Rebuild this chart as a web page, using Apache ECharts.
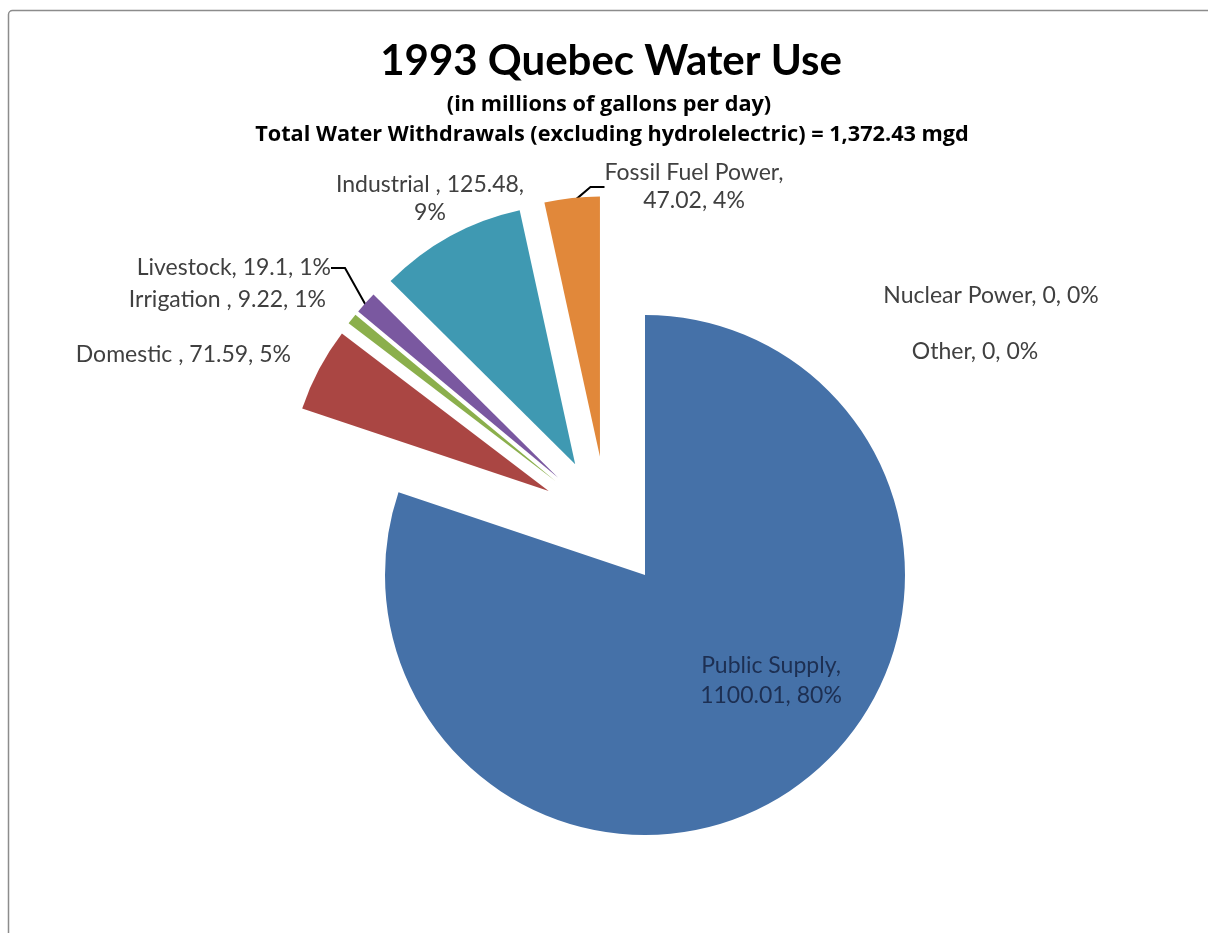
<!DOCTYPE html>
<html>
<head>
<meta charset="utf-8">
<script src="https://cdn.jsdelivr.net/npm/echarts@6/dist/echarts.min.js"></script>
<style>
html,body{margin:0;padding:0;background:#fff;}
#chart{width:1208px;height:933px;}
</style>
</head>
<body>
<div id="chart"></div>
<script>
// ---- data ----
var categories = ['Public Supply', 'Domestic', 'Irrigation', 'Livestock', 'Industrial', 'Fossil Fuel Power', 'Nuclear Power', 'Other'];
var values = [1100.01, 71.59, 9.22, 19.1, 125.48, 47.02, 0, 0];
var pctLabels = ['80%', '5%', '1%', '1%', '9%', '4%', '0%', '0%'];
var labelNames = ['Public Supply,', 'Domestic ,', 'Irrigation ,', 'Livestock,', 'Industrial ,', 'Fossil Fuel Power,', 'Nuclear Power,', 'Other,'];
var titleText = '1993 Quebec Water Use';
var subText1 = '(in millions of gallons per day)';
var subText2 = 'Total Water Withdrawals (excluding hydrolelectric) = 1,372.43 mgd';

// ---- styles ----
var colors = ['#4571A8', '#AA4643', '#8BAF4C', '#7A58A0', '#3F99B2', '#E1883A', '#4571A8', '#AA4643'];
// label placement (pixels)
var labelPos = [
  {x: 771, y: 681, align: 'center'},
  {x: 291, y: 355, align: 'right'},
  {x: 326, y: 300, align: 'right'},
  {x: 331, y: 268, align: 'right'},
  {x: 430, y: 199, align: 'center'},
  {x: 694, y: 187, align: 'center'},
  {x: 991, y: 296, align: 'center'},
  {x: 975, y: 352, align: 'center'}
];
var showLine = [false, false, false, true, false, true, false, false];

function labelText(i) {
  var v = String(values[i]);
  if (i === 0) return labelNames[i] + '\n' + v + ', ' + pctLabels[i];
  if (i === 4) return labelNames[i] + ' ' + v + ',\n' + pctLabels[i];
  if (i === 5) return labelNames[i] + '\n' + v + ', ' + pctLabels[i];
  return labelNames[i] + ' ' + v + ', ' + pctLabels[i];
}

var NONE = 'rgba(0,0,0,0)';

// slices drawn (fill) for a series, with labels optionally carried
function buildData(fillFn, labelFn, selectFn) {
  return categories.map(function (name, i) {
    var lab = labelFn(i);
    return {
      name: name,
      value: values[i],
      selected: selectFn(i),
      itemStyle: {color: fillFn(i) ? colors[i] : NONE},
      label: {show: lab, formatter: labelText(i)},
      labelLine: {show: lab && showLine[i]}
    };
  });
}

var font = 'Lato, "Liberation Sans", sans-serif';
var subFont = '"Open Sans", Lato, sans-serif';
var chart = echarts.init(document.getElementById('chart'), null, {renderer: 'canvas'});

function fixedLayout(p) {
  var lp = labelPos[p.dataIndex];
  return {x: lp.x, y: lp.y, align: lp.align, verticalAlign: 'middle'};
}

var option = {
  backgroundColor: '#ffffff',
  animation: false,
  title: [
    {text: titleText, left: 606, textAlign: 'center', top: 35, textStyle: {fontFamily: font, fontSize: 42, fontWeight: 'bold', color: '#000'}},
    {text: subText1, left: 604, textAlign: 'center', top: 89, textStyle: {fontFamily: subFont, fontSize: 21.7, fontWeight: 'bold', color: '#000'}},
    {text: subText2, left: 607, textAlign: 'center', top: 119, textStyle: {fontFamily: subFont, fontSize: 21.7, fontWeight: 'bold', color: '#000'}}
  ],
  graphic: [
    {type: 'rect', shape: {x: 8.5, y: 10.5, width: 1300, height: 1000, r: 4}, style: {fill: 'none', stroke: '#8c8c8c', lineWidth: 1.5}, silent: true, z: -1}
  ],
  series: [
    {
      // Public Supply (not exploded)
      type: 'pie',
      silent: true,
      center: [645, 575],
      radius: 260,
      startAngle: 90,
      clockwise: true,
      avoidLabelOverlap: false,
      minAngle: 0,
      label: {position: 'inside', fontFamily: font, fontSize: 23, color: '#1d2f52', lineHeight: 30, align: 'center'},
      labelLayout: fixedLayout,
      data: buildData(function (i) { return i === 0; }, function (i) { return i === 0; }, function () { return false; })
    },
    {
      // exploded slices
      type: 'pie',
      silent: true,
      center: [607, 522],
      radius: 260,
      startAngle: 90,
      clockwise: true,
      selectedMode: 'multiple',
      selectedOffset: 66,
      avoidLabelOverlap: false,
      minAngle: 0,
      label: {show: false},
      labelLine: {show: false},
      data: buildData(function (i) { return i > 0; }, function () { return false; }, function (i) { return i > 0 && i < 6; })
    },
    {
      // invisible carrier for the outside labels and leader lines
      type: 'pie',
      silent: true,
      center: [608, 526],
      radius: 326,
      startAngle: 90,
      clockwise: true,
      avoidLabelOverlap: false,
      minAngle: 0,
      label: {position: 'outside', fontFamily: font, fontSize: 23, color: '#404040', lineHeight: 28, align: 'center'},
      labelLine: {lineStyle: {color: '#000', width: 2}, length: 10, length2: 14},
      labelLayout: fixedLayout,
      data: buildData(function () { return false; }, function (i) { return i > 0; }, function () { return false; })
    }
  ]
};
chart.setOption(option);
</script>
</body>
</html>
